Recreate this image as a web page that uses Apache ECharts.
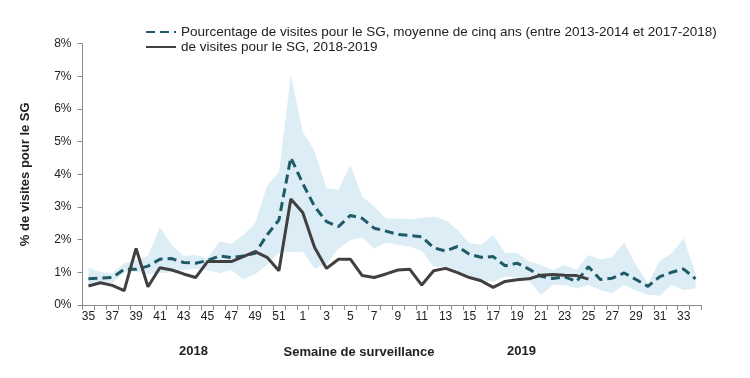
<!DOCTYPE html>
<html>
<head>
<meta charset="utf-8">
<script src="https://cdn.jsdelivr.net/npm/echarts@6/dist/echarts.min.js"></script>
<style>html,body{margin:0;padding:0;background:#fff;}#c{width:750px;height:378px;}</style>
</head>
<body>
<div id="c"></div>
<script>
const weeks = ['35','36','37','38','39','40','41','42','43','44','45','46','47','48','49','50','51','52',
  '1','2','3','4','5','6','7','8','9','10','11','12','13','14','15','16','17','18','19','20','21','22','23','24','25','26','27','28','29','30','31','32','33','34'];
const avg5 = [0.80,0.82,0.84,1.09,1.09,1.19,1.40,1.42,1.30,1.28,1.36,1.50,1.45,1.50,1.58,2.14,2.60,4.51,
  3.72,3.01,2.55,2.40,2.74,2.65,2.35,2.26,2.16,2.13,2.09,1.75,1.65,1.79,1.55,1.46,1.48,1.20,1.28,1.10,0.88,0.81,0.86,0.72,1.17,0.78,0.82,0.98,0.78,0.57,0.87,1.00,1.10,0.80];
const season = [0.58,0.68,0.60,0.44,1.73,0.56,1.14,1.07,0.95,0.84,1.33,1.33,1.33,1.48,1.63,1.46,1.05,3.24,
  2.83,1.76,1.12,1.40,1.40,0.90,0.84,0.95,1.07,1.09,0.61,1.05,1.12,0.99,0.84,0.74,0.54,0.72,0.77,0.80,0.91,0.93,0.91,0.90,0.79,
  null,null,null,null,null,null,null,null,null];
const bandLow = [0.64,0.68,0.66,1.00,1.02,0.95,0.97,1.00,1.07,1.10,1.07,0.97,1.07,0.79,0.94,1.22,1.60,1.63,
  1.63,1.12,1.25,1.73,1.99,2.06,1.73,1.91,1.84,1.79,1.65,1.17,1.17,0.97,0.87,0.77,0.70,0.87,0.85,0.75,0.30,0.61,0.61,0.51,0.61,0.46,0.36,0.61,0.44,0.31,0.28,0.61,0.46,0.51];
const bandHigh = [1.15,1.00,0.97,1.28,1.38,1.50,2.38,1.84,1.50,1.53,1.43,1.94,1.87,2.14,2.50,3.65,4.05,7.03,
  5.30,4.70,3.57,3.52,4.29,3.32,3.01,2.65,2.65,2.62,2.67,2.70,2.60,2.30,1.89,1.84,2.14,1.58,1.60,1.33,1.22,1.07,1.22,1.07,1.53,1.40,1.46,1.91,1.22,0.66,1.36,1.58,2.04,0.97];
const yTicks = [0,1,2,3,4,5,6,7,8];
const avgName = 'Pourcentage de visites pour le SG, moyenne de cinq ans (entre 2013-2014 et 2017-2018)';
const seasonName = 'de visites pour le SG, 2018-2019';

const bandSpan = bandHigh.map((h, i) => +(h - bandLow[i]).toFixed(2));
const FONT = '"Liberation Sans", Arial, sans-serif';

const chart = echarts.init(document.getElementById('c'), null, {renderer: 'canvas'});
chart.setOption({
  animation: false,
  backgroundColor: '#fff',
  textStyle: {fontFamily: FONT},
  grid: {left: 82.5, right: 48.5, top: 43.5, bottom: 73, containLabel: false},
  legend: {
    orient: 'vertical', left: 145, top: 25, padding: 0, itemWidth: 30, itemHeight: 10, itemGap: 1,
    itemStyle: {opacity: 0},
    data: [avgName, seasonName],
    textStyle: {fontFamily: FONT, fontSize: 13.5, lineHeight: 14, color: '#222'}
  },
  xAxis: {
    type: 'category', data: weeks, boundaryGap: true,
    name: 'Semaine de surveillance', nameLocation: 'middle', nameGap: 41,
    nameTextStyle: {fontFamily: FONT, fontSize: 13, fontWeight: 'bold', color: '#222', padding: [0, 66, 0, 0]},
    axisLine: {lineStyle: {color: '#8c8c8c', width: 1}},
    axisTick: {show: true, interval: 0, length: 5, lineStyle: {color: '#8c8c8c'}},
    axisLabel: {interval: 1, fontSize: 12, color: '#222', fontFamily: FONT, margin: 6},
    splitLine: {show: false}
  },
  yAxis: {
    type: 'value', min: yTicks[0], max: yTicks[yTicks.length - 1], interval: 1,
    name: '% de visites pour le SG', nameLocation: 'middle', nameGap: 51,
    nameTextStyle: {fontFamily: FONT, fontSize: 13, fontWeight: 'bold', color: '#222'},
    axisLine: {show: true, lineStyle: {color: '#8c8c8c', width: 1}},
    axisTick: {show: true, length: 5, lineStyle: {color: '#8c8c8c'}},
    axisLabel: {formatter: '{value}%', fontSize: 12, color: '#222', fontFamily: FONT, margin: 11},
    splitLine: {show: false}
  },
  graphic: [
    {type: 'text', left: 179, top: 345, style: {text: '2018', font: 'bold 13px ' + FONT, fill: '#222'}},
    {type: 'text', left: 507, top: 345, style: {text: '2019', font: 'bold 13px ' + FONT, fill: '#222'}}
  ],
  series: [
    {name: 'bandBase', type: 'line', data: bandLow, stack: 'band', symbol: 'none', silent: true,
     lineStyle: {opacity: 0}, z: 1},
    {name: 'bandFill', type: 'line', data: bandSpan, stack: 'band', symbol: 'none', silent: true,
     lineStyle: {opacity: 0}, areaStyle: {color: '#dcedf5', opacity: 1}, z: 1},
    {name: avgName, type: 'line', data: avg5, symbol: 'none', color: '#1f5a68',
     lineStyle: {color: '#1f5a68', width: 3, type: [9, 5]}, z: 3},
    {name: seasonName, type: 'line', data: season, symbol: 'none', color: '#404040',
     lineStyle: {color: '#404040', width: 3}, z: 4}
  ]
});
</script>
</body>
</html>
